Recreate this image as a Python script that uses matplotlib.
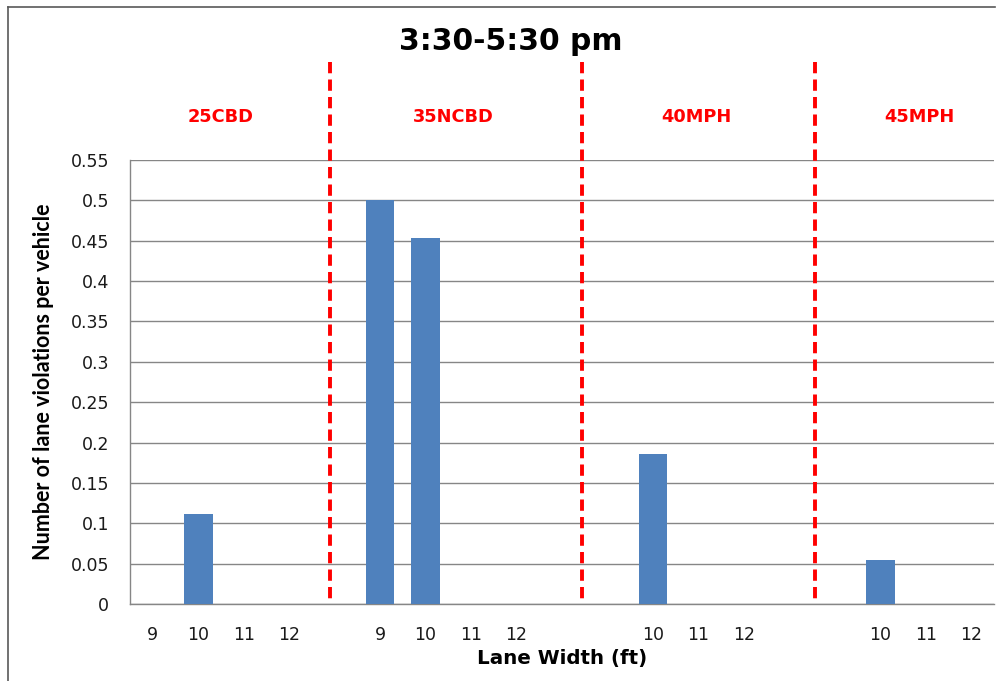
import matplotlib
matplotlib.use("Agg")
import matplotlib.pyplot as plt
import matplotlib.transforms as mtransforms
from matplotlib.lines import Line2D

# lane width slots along the x axis (blank slots separate the road types)
lane_widths = ['9', '10', '11', '12', '',
               '9', '10', '11', '12', '', '',
               '10', '11', '12', '', '',
               '10', '11', '12']
violations = [0, 0.111, 0, 0, 0,
              0.5, 0.453, 0, 0, 0, 0,
              0.186, 0, 0, 0, 0,
              0.055, 0, 0]

zones = ['25CBD', '35NCBD', '40MPH', '45MPH']
zone_label_x = [1.5, 6.6, 11.95, 16.85]
divider_x = [3.89, 9.45, 14.57]

bar_color = '#4F81BD'
grid_color = '#868686'

fig = plt.figure(figsize=(9.99, 6.81), dpi=100)
ax = fig.add_axes([130 / 999, 1 - 604 / 681, 864 / 999, 444 / 681])

x = list(range(len(lane_widths)))
ax.bar(x, violations, width=0.63, color=bar_color, zorder=3)

ax.set_xlim(-0.5, len(lane_widths) - 0.5)
ax.set_ylim(0, 0.55)
ax.set_yticks([i * 0.05 for i in range(12)])
ax.set_yticklabels(['0', '0.05', '0.1', '0.15', '0.2', '0.25', '0.3',
                    '0.35', '0.4', '0.45', '0.5', '0.55'])
ax.set_xticks(x)
ax.set_xticklabels(lane_widths)
ax.tick_params(axis='both', length=0, labelsize=12.5, colors='#1a1a1a')
ax.tick_params(axis='y', pad=15)
ax.tick_params(axis='x', pad=16)

ax.grid(axis='y', color=grid_color, linewidth=1, zorder=0)
ax.set_axisbelow(True)
for side in ['top', 'right']:
    ax.spines[side].set_visible(False)
for side in ['left', 'bottom']:
    ax.spines[side].set_color(grid_color)
    ax.spines[side].set_linewidth(1)

ax.set_ylabel('Number of lane violations per vehicle', fontsize=15.5,
              fontweight='bold', family='Lato')
ax.yaxis.set_label_coords(-0.0885, 0.5)
ax.set_xlabel('Lane Width (ft)', fontsize=14.3, fontweight='bold',
              family='DejaVu Sans')
ax.xaxis.set_label_coords(0.5, -0.101)

# red dashed separators between road types, drawn top-down above the plot area
trans = mtransforms.blended_transform_factory(ax.transData, ax.transAxes)
for xd in divider_x:
    ax.plot([xd, xd], [1.221, 0], transform=trans, color='#FF0000',
            linewidth=2.8, linestyle=(0, (2.9, 1.6)), clip_on=False, zorder=4)

for xz, name in zip(zone_label_x, zones):
    ax.text(xz, 1.0856, name, transform=trans, ha='center', va='baseline',
            color='#FF0000', fontsize=12.8, fontweight='bold',
            family='DejaVu Sans')

fig.text(511 / 999, 1 - 50 / 681, '3:30-5:30 pm', ha='center', va='baseline',
         fontsize=21.4, fontweight='bold', family='DejaVu Sans')

# chart frame (top and left edges)
fig.add_artist(Line2D([8 / 999, 995 / 999], [1 - 7 / 681, 1 - 7 / 681],
                      transform=fig.transFigure, color='#595959', linewidth=1.2))
fig.add_artist(Line2D([8 / 999, 8 / 999], [0, 1 - 7 / 681],
                      transform=fig.transFigure, color='#595959', linewidth=1.2))

fig.savefig('out.png', dpi=100)
